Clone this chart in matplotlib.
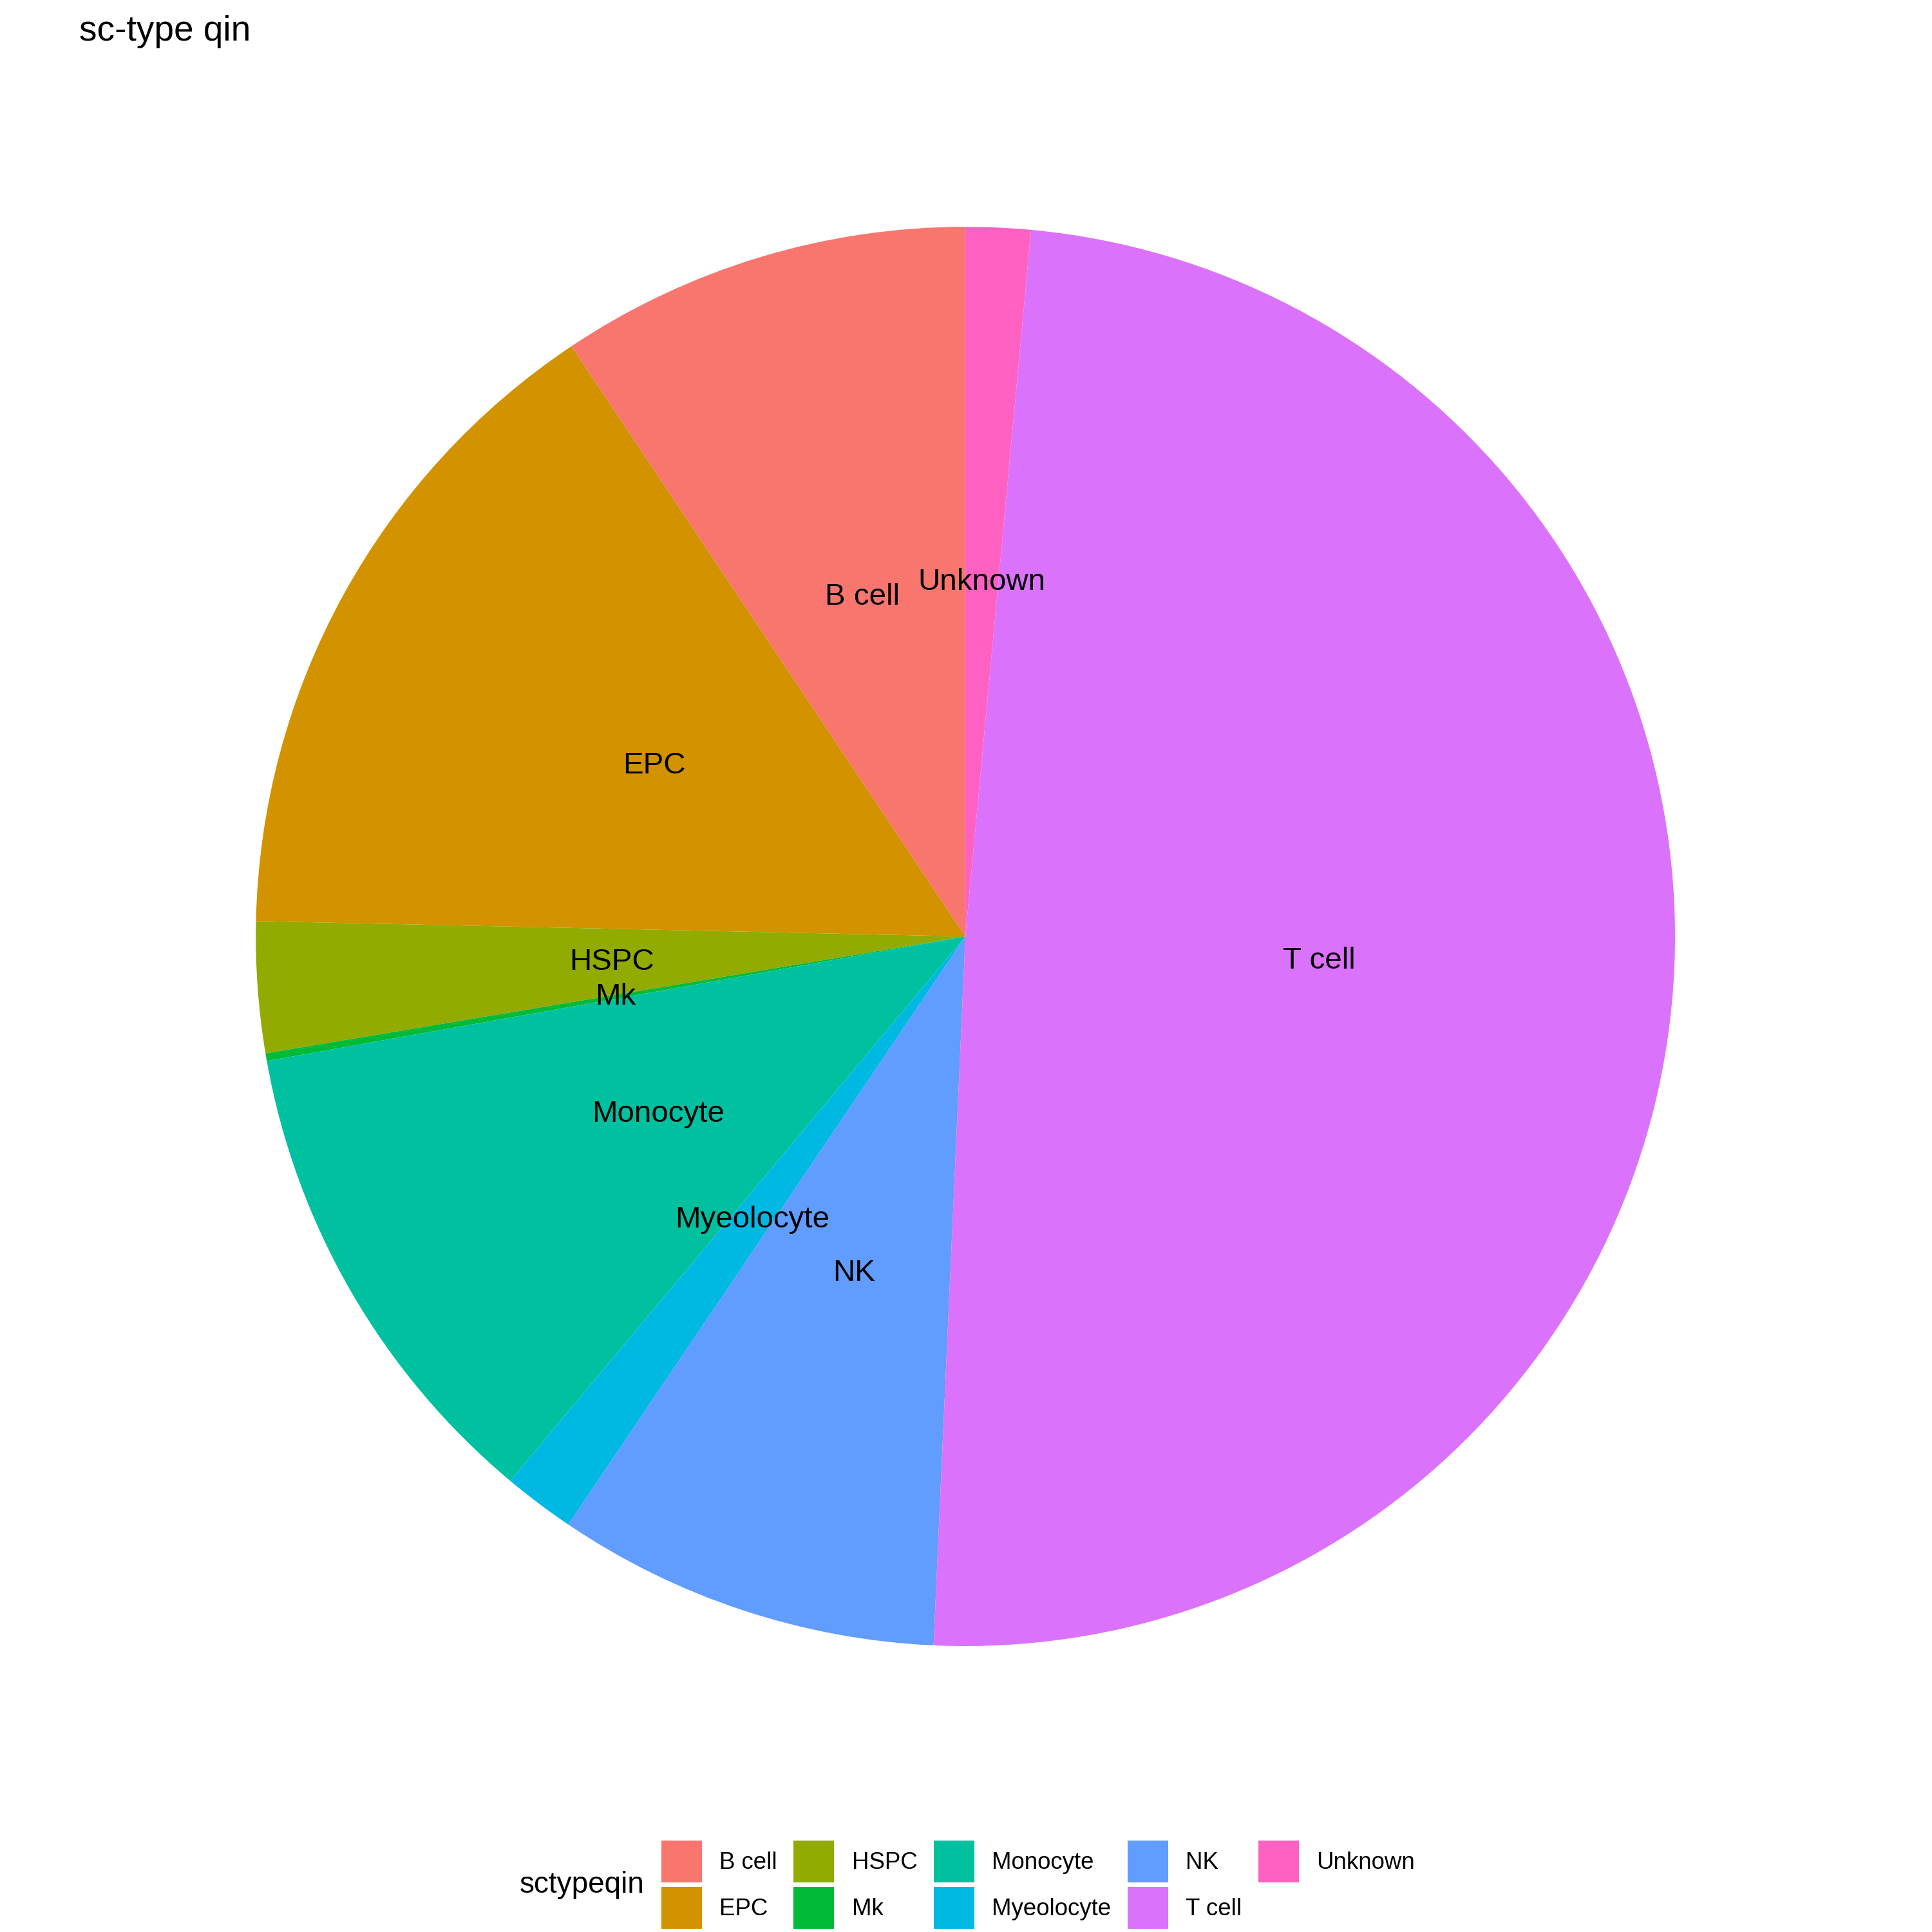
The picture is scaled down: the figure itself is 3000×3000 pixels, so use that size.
import numpy as np
import matplotlib
matplotlib.use("Agg")
import matplotlib.pyplot as plt

plt.rcParams['font.family'] = ['Liberation Sans', 'DejaVu Sans']

# share of cells per sc-type cluster (percent)
cell_types = ["B cell", "EPC", "HSPC", "Mk", "Monocyte",
              "Myeolocyte", "NK", "T cell", "Unknown"]
shares = [9.37, 15.29, 2.98, 0.175, 11.11, 1.63, 8.74, 49.25, 1.475]
colors = ["#F8766D", "#D39200", "#93AA00", "#00BA38", "#00C19F",
          "#00B9E3", "#619CFF", "#DB72FB", "#FF61C3"]

fig = plt.figure(figsize=(10, 10), dpi=300)

# pie centre / radius in figure fraction
cx, cy, r = 0.4997, 0.5153, 0.3673
ax = fig.add_axes([cx - r, cy - r, 2 * r, 2 * r])
wedges, _ = ax.pie(shares, colors=colors, startangle=90, counterclock=True,
                   radius=1, wedgeprops=dict(linewidth=0))
ax.set_xlim(-1, 1)
ax.set_ylim(-1, 1)
ax.set_aspect('equal')
ax.axis('off')

# labels at half radius, middle of each slice
for w, lab in zip(wedges, cell_types):
    th = np.deg2rad((w.theta1 + w.theta2) / 2)
    ax.text(0.5 * np.cos(th), 0.5 * np.sin(th), lab, ha='center', va='center',
            fontsize=11.4, color='black')

fig.text(0.041, 0.979, "sc-type qin", fontsize=13.2, ha='left', va='baseline')

leg = fig.legend(wedges, cell_types, ncol=5, loc='upper left',
                 bbox_to_anchor=(0.3423, 0.0473), frameon=False,
                 fontsize=8.8, borderpad=0, borderaxespad=0,
                 handlelength=1.72, handleheight=2.35, handletextpad=0.74,
                 columnspacing=0.7, labelspacing=0.2)
fig.text(0.269, 0.0243, "sctypeqin", fontsize=11, ha='left', va='center')

fig.savefig("out.png", dpi=300)
